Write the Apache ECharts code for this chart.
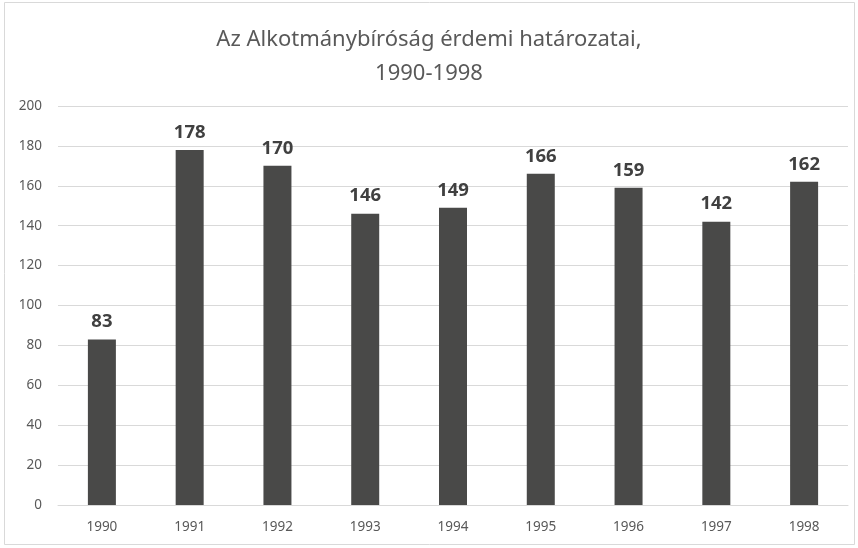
<!DOCTYPE html>
<html>
<head>
<meta charset="utf-8">
<script src="https://cdn.jsdelivr.net/npm/echarts@6/dist/echarts.min.js"></script>
<style>
  html, body { margin: 0; padding: 0; background: #fff; }
  #chart { width: 858px; height: 548px; }
</style>
</head>
<body>
<div id="chart"></div>
<script>
// adatok
const years = ['1990', '1991', '1992', '1993', '1994', '1995', '1996', '1997', '1998'];
const decisions = [83, 178, 170, 146, 149, 166, 159, 142, 162];

const chart = echarts.init(document.getElementById('chart'));
const font = 'Noto Sans';

const option = {
    backgroundColor: '#fff',
    animation: false,
    graphic: [{
        type: 'rect',
        shape: { x: 4.5, y: 2.5, width: 850, height: 542 },
        style: { fill: 'none', stroke: '#d9d9d9', lineWidth: 1 }
    }],
    title: {
        text: 'Az Alkotmánybíróság érdemi határozatai,\n1990-1998',
        left: 'center',
        top: 18,
        textStyle: {
            fontFamily: font,
            fontSize: 22,
            fontWeight: 'normal',
            color: '#595959',
            lineHeight: 34
        }
    },
    grid: { left: 58, right: 10, top: 106, bottom: 43 },
    xAxis: {
        type: 'category',
        data: years,
        axisLine: { lineStyle: { color: '#d9d9d9' } },
        axisTick: { show: false },
        axisLabel: { color: '#595959', fontFamily: font, fontSize: 13.5, margin: 15 }
    },
    yAxis: {
        type: 'value',
        min: 0,
        max: 200,
        interval: 20,
        axisLine: { show: false },
        axisTick: { show: false },
        splitLine: { lineStyle: { color: '#d9d9d9' } },
        axisLabel: { color: '#595959', fontFamily: font, fontSize: 13.5, margin: 16 }
    },
    series: [{
        type: 'bar',
        data: decisions,
        barWidth: 28,
        itemStyle: { color: '#494948' },
        label: {
            show: true,
            position: 'top',
            distance: 8,
            fontFamily: font,
            fontSize: 18.5,
            fontWeight: 'bold',
            color: '#404040'
        }
    }]
};

chart.setOption(option);
</script>
</body>
</html>
